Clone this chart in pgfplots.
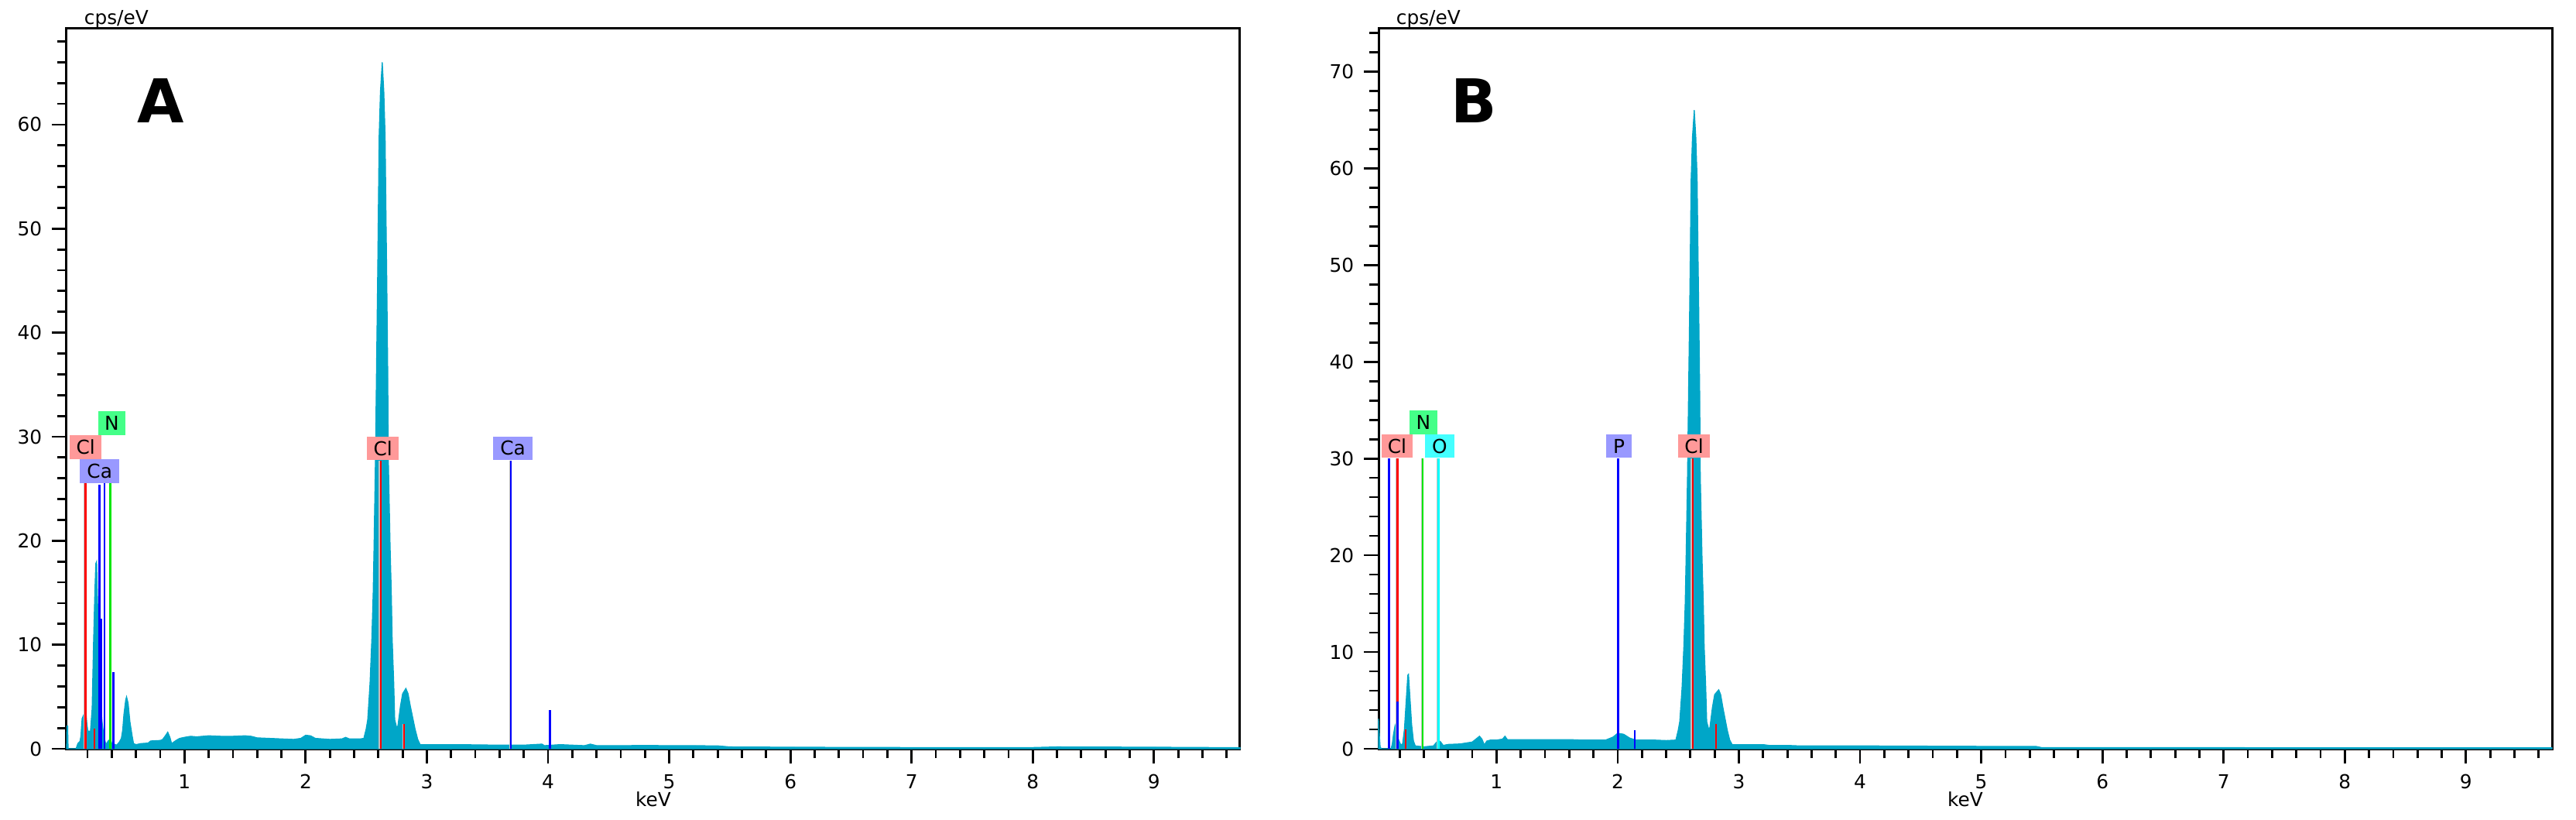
\documentclass[border=0pt]{standalone}
\usepackage{fontspec}
\setmainfont{DejaVu Sans}
\usepackage{pgfplots}
\pgfplotsset{compat=1.18}
\definecolor{spec}{RGB}{0,166,200}
\definecolor{clbox}{RGB}{255,153,153}
\definecolor{cabox}{RGB}{153,153,255}
\definecolor{nbox}{RGB}{68,255,136}
\definecolor{obox}{RGB}{68,255,255}
\definecolor{lred}{RGB}{255,0,0}
\definecolor{lblue}{RGB}{0,0,255}
\definecolor{lgreen}{RGB}{0,230,0}
\definecolor{lcyan}{RGB}{0,255,255}
\definecolor{lgray}{RGB}{192,192,192}
\newcommand{\smallfont}{\fontsize{6.2bp}{7bp}\selectfont}
\pgfplotsset{eds/.style={
  width=379bp, height=232.75bp, scale only axis,
  xmin=0.027, xmax=9.71, ymin=0,
  axis line style={line width=0.75bp},
  tick style={line width=0.7bp, black},
  tick align=outside, tick pos=left,
  major tick length=4.75bp, minor tick length=3bp,
  xtick={1,...,9}, minor xtick={0.2,0.4,...,9.6},
  ticklabel style={font=\smallfont},
  yticklabel style={xshift=0.3bp},
  /pgf/number format/assume math mode=true,
  xlabel={keV},
  every axis x label/.style={at={(axis description cs:0.5,0)}, anchor=center, yshift=-16.25bp, font=\smallfont},
  clip=false,
}}
\newcommand{\elab}[5]{\node[fill=#4, minimum width=#5, minimum height=7.6bp, inner sep=0pt, anchor=south, font=\smallfont] at (axis cs:#1,#2) {#3};}
\begin{document}
\begin{tikzpicture}
\path[use as bounding box] (0,0) rectangle (832bp,264.75bp);
% ---------------- Panel A ----------------
\begin{axis}[eds, at={(21.5bp,23bp)}, anchor=south west, ymax=69.3,
  ytick={0,10,...,60}, minor ytick={2,4,...,68}]
\addplot[fill=spec, draw=spec, line width=0.3bp] coordinates {
(0.027,0) (0.030,2.2) (0.036,2.2) (0.040,0) (0.105,0) (0.12,0.5) (0.137,0.7) (0.145,1.2) (0.155,2.9) (0.17,3.3) (0.185,3.7) (0.195,2.4) (0.203,1.7) (0.224,1.7) (0.238,3.9) (0.249,10.0) (0.26,15.0) (0.268,17.8) (0.275,18.0) (0.28,15.5) (0.29,11.0) (0.30,7.0) (0.31,4.0) (0.321,2.5) (0.335,1.2) (0.352,0.4) (0.362,0.6) (0.373,0.8) (0.39,0.9) (0.40,0.5) (0.42,0.45) (0.44,0.35) (0.46,0.6) (0.479,1.0) (0.49,1.8) (0.50,3.3) (0.515,4.7) (0.522,5.0) (0.535,4.4) (0.55,2.6) (0.569,1.2) (0.58,0.5) (0.60,0.4) (0.64,0.5) (0.70,0.55) (0.72,0.75) (0.80,0.8) (0.82,0.9) (0.845,1.3) (0.862,1.6) (0.88,1.1) (0.894,0.5) (0.93,0.8) (0.96,1.0) (1.0,1.1) (1.05,1.2) (1.1,1.15) (1.2,1.25) (1.3,1.2) (1.4,1.2) (1.5,1.25) (1.55,1.2) (1.6,1.05) (1.7,1.0) (1.8,0.95) (1.9,0.9) (1.96,1.0) (2.0,1.3) (2.04,1.25) (2.08,1.0) (2.2,0.9) (2.3,0.95) (2.33,1.1) (2.36,0.95) (2.45,0.95) (2.48,1.0) (2.499,1.9) (2.512,2.8) (2.531,6.3) (2.546,10.6) (2.557,15.0) (2.564,19.4) (2.576,28.1) (2.585,36.9) (2.594,45.6) (2.602,54.4) (2.606,58.8) (2.617,63.2) (2.632,66.0) (2.645,63.2) (2.656,58.8) (2.660,54.4) (2.669,45.6) (2.677,36.9) (2.682,28.1) (2.697,19.4) (2.707,15.0) (2.714,10.6) (2.727,6.3) (2.735,2.8) (2.752,2.0) (2.761,2.2) (2.782,4.1) (2.80,5.3) (2.827,5.8) (2.845,5.3) (2.864,4.1) (2.903,1.9) (2.925,0.9) (2.945,0.4) (3.0,0.4) (3.2,0.4) (3.4,0.38) (3.6,0.35) (3.8,0.35) (3.95,0.45) (3.97,0.3) (4.1,0.4) (4.3,0.3) (4.35,0.45) (4.4,0.3) (4.6,0.3) (4.8,0.32) (5.0,0.3) (5.2,0.3) (5.4,0.28) (5.5,0.18) (6.0,0.15) (7.0,0.12) (8.0,0.12) (8.2,0.18) (9.0,0.15) (9.5,0.12) (9.71,0.12)
} \closedcycle;
\addplot[lgray, line width=0.35bp, ycomb] coordinates {(0.172,25.5) (2.607,27.7) (2.803,2.4) (3.682,27.7)};
\addplot[lred, line width=0.65bp, ycomb] coordinates {(0.183,25.5) (0.258,1.9) (2.620,27.7) (2.812,2.4)};
\addplot[lblue, line width=0.65bp, ycomb] coordinates {(0.297,25.4) (0.314,12.5) (0.340,25.5) (0.412,7.4) (3.692,27.7) (4.015,3.75)};
\addplot[lgreen, line width=0.65bp, ycomb] coordinates {(0.389,25.5)};
\elab{0.185}{27.8}{Cl}{clbox}{10.2bp}
\elab{0.40}{30.1}{N}{nbox}{8.8bp}
\elab{0.30}{25.5}{Ca}{cabox}{12.8bp}
\elab{2.637}{27.7}{Cl}{clbox}{10.2bp}
\elab{3.71}{27.7}{Ca}{cabox}{12.8bp}
\node[anchor=base west, font=\smallfont, xshift=2.2bp, yshift=1.25bp] at (rel axis cs:0,1) {cps/eV};
\node[font=\bfseries\fontsize{19.5bp}{20bp}\selectfont] at (rel axis cs:0.08,0.899) {A};
\end{axis}
% ---------------- Panel B ----------------
\begin{axis}[eds, at={(445.25bp,23bp)}, anchor=south west, ymax=74.5,
  ytick={0,10,...,70}, minor ytick={2,4,...,74}]
\addplot[fill=spec, draw=spec, line width=0.3bp] coordinates {
(0.027,0) (0.027,3.1) (0.033,1.5) (0.04,0.2) (0.05,0) (0.13,0) (0.14,0.5) (0.15,1.5) (0.163,2.4) (0.175,1.8) (0.19,1.0) (0.21,0.4) (0.225,0.5) (0.24,2.0) (0.255,5.0) (0.268,7.6) (0.274,7.7) (0.285,5.5) (0.30,2.5) (0.315,0.8) (0.33,0.3) (0.40,0.2) (0.48,0.3) (0.50,0.6) (0.52,0.9) (0.54,0.7) (0.56,0.35) (0.60,0.45) (0.70,0.5) (0.80,0.7) (0.84,1.1) (0.86,1.3) (0.88,1.0) (0.90,0.4) (0.92,0.8) (0.95,0.9) (1.0,0.9) (1.05,1.0) (1.07,1.3) (1.09,0.95) (1.2,0.95) (1.4,0.95) (1.6,0.95) (1.7,0.9) (1.9,0.9) (1.96,1.2) (2.0,1.6) (2.05,1.5) (2.1,1.1) (2.15,0.9) (2.3,0.9) (2.4,0.85) (2.48,0.9) (2.499,1.9) (2.512,2.8) (2.531,6.3) (2.546,10.6) (2.557,15.0) (2.564,19.4) (2.576,28.1) (2.585,36.9) (2.594,45.6) (2.602,54.4) (2.606,58.8) (2.617,63.2) (2.632,66.0) (2.645,63.2) (2.656,58.8) (2.660,54.4) (2.669,45.6) (2.677,36.9) (2.682,28.1) (2.697,19.4) (2.707,15.0) (2.714,10.6) (2.727,6.3) (2.735,2.8) (2.752,2.0) (2.761,2.2) (2.782,4.3) (2.80,5.6) (2.834,6.1) (2.85,5.6) (2.868,4.3) (2.905,1.9) (2.925,0.9) (2.945,0.43) (3.0,0.43) (3.2,0.43) (3.25,0.35) (3.4,0.35) (3.5,0.3) (4.0,0.3) (5.0,0.25) (5.45,0.25) (5.5,0.12) (9.71,0.1)
} \closedcycle;
\addplot[lgray, line width=0.35bp, ycomb] coordinates {(0.171,30) (0.380,30) (0.511,30) (2.607,30)};
\addplot[lblue, line width=0.65bp, ycomb] coordinates {(0.114,30) (2.003,30) (2.140,1.9)};
\addplot[lred, line width=0.65bp, ycomb] coordinates {(0.183,30) (0.251,2.0) (2.620,30) (2.812,2.6)};
\addplot[lblue, line width=0.65bp, ycomb] coordinates {(0.183,4.9)};
\addplot[lgreen, line width=0.65bp, ycomb] coordinates {(0.391,30)};
\addplot[lcyan, line width=0.65bp, ycomb] coordinates {(0.523,30)};
\elab{0.18}{30.0}{Cl}{clbox}{10.2bp}
\elab{0.397}{32.45}{N}{nbox}{8.8bp}
\elab{0.53}{30.0}{O}{obox}{9.4bp}
\elab{2.01}{30.0}{P}{cabox}{8.2bp}
\elab{2.63}{30.0}{Cl}{clbox}{10.2bp}
\node[anchor=base west, font=\smallfont, xshift=2.2bp, yshift=1.25bp] at (rel axis cs:0,1) {cps/eV};
\node[font=\bfseries\fontsize{19.5bp}{20bp}\selectfont] at (rel axis cs:0.081,0.899) {B};
\end{axis}
\end{tikzpicture}
\end{document}
